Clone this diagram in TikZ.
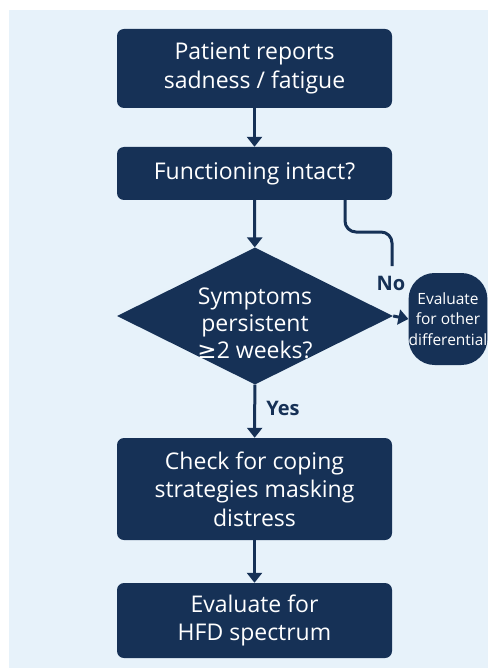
\documentclass[tikz,border=0pt]{standalone}
\usepackage{fontspec}
\setmainfont{Open Sans}
\usetikzlibrary{shapes.geometric,arrows.meta}
\definecolor{mynavy}{RGB}{22, 49, 86}
\definecolor{mysky}{RGB}{231, 242, 250}
\newfontfamily\symfont{DejaVu Sans}

\begin{document}
\begin{tikzpicture}[x=1pt,y=-1pt]
                \useasboundingbox (0,0) rectangle (488,668);
                \fill[mysky] (9,10) rectangle (488,668);

                \tikzstyle{box}=[rectangle, rounded corners=7pt, fill=mynavy, minimum width=275pt, text=white, align=center, font=\fontsize{23}{28.5}\selectfont, inner sep=0pt]
                \node[box, minimum height=79pt] (P) at (254.5,68.5) {Patient reports\\sadness / fatigue};
                \node[box, minimum height=53pt] (F) at (254.5,173.5) {Functioning intact?};
                \node[diamond, fill=mynavy, minimum width=276pt, minimum height=137pt, inner sep=0pt] (S) at (255,316) {};
                \node[text=white, align=center, font=\fontsize{23}{27}\selectfont] (St) at (255,323) {Symptoms\\persistent\\{\symfont ≥}2 weeks?};
                \node[rectangle, rounded corners=26pt, fill=mynavy, minimum width=78pt, minimum height=92pt, text=white, align=center, inner sep=0pt, font=\fontsize{15.5}{20.5}\selectfont] (O) at (448,319) {Evaluate\\for other\\differential};
                \node[box, minimum height=102pt] (C) at (254.5,489) {Check for coping\\strategies masking\\distress};
                \node[box, minimum height=75pt] (H) at (254.5,620.5) {Evaluate for\\HFD spectrum};

                \tikzstyle{flow}=[->,draw=mynavy,line width=3pt,>={Triangle[width=15pt,length=10pt]}]
                \tikzstyle{tag}=[text=mynavy, font=\fontsize{20}{22}\selectfont\bfseries]

                \coordinate (N1) at (345,200);
                \coordinate (N2) at (392,266);

                \draw[flow] (P) -- (F);
                \draw[flow] (F) -- (S);
                \draw[draw=mynavy, line width=3pt, rounded corners=11pt] (N1) |- (392,232) -- (N2);
                \node[tag] (No) at (391,283) {No};
                \draw[flow] (S.east) -- (O.west);
                \draw[flow] (S) -- (C);
                \node[tag] (Y) at (283,408) {Yes};
                \draw[flow] (C) -- (H);
            \end{tikzpicture}
\end{document}
